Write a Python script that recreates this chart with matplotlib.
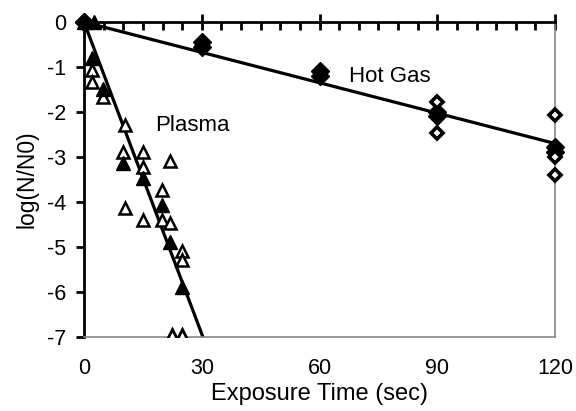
import matplotlib
matplotlib.use("Agg")
import matplotlib.pyplot as plt
from matplotlib.ticker import MultipleLocator, FixedLocator
import numpy as np

plt.rcParams['font.family'] = ['Liberation Sans', 'DejaVu Sans']
plt.rcParams['axes.unicode_minus'] = False

# Hot gas data
hot_filled_x = [0, 0, 30, 30, 60, 60, 90, 90, 120, 120]
hot_filled_y = [0, 0, -0.45, -0.55, -1.1, -1.2, -2.0, -2.1, -2.78, -2.88]
hot_open_x = [90, 90, 120, 120, 120]
hot_open_y = [-1.78, -2.47, -2.07, -3.0, -3.4]
hot_fit_x = [0, 120]
hot_fit_y = [0, -2.7]

# Plasma data
pl_filled_x = [0, 2.5, 2, 4.8, 10, 15, 19.9, 21.9, 25]
pl_filled_y = [0, 0, -0.8, -1.5, -3.13, -3.47, -4.07, -4.88, -5.89]
pl_open_x = [2, 2, 4.8, 10.4, 10, 15, 15, 21.9, 19.9, 10.4, 15, 19.9, 21.9, 25, 25]
pl_open_y = [-1.07, -1.33, -1.67, -2.29, -2.89, -2.89, -3.22, -3.1, -3.73, -4.13,
             -4.4, -4.4, -4.47, -5.1, -5.29]
pl_floor_x = [22.4, 25]
pl_floor_y = [-7.0, -7.0]
pl_fit_x = [0, 30.3]
pl_fit_y = [0, -7]

x_ticks = [0, 30, 60, 90, 120]
y_ticks = [0, -1, -2, -3, -4, -5, -6, -7]

fig = plt.figure(figsize=(5.76, 4.11), dpi=100)
ax = fig.add_axes([84/576, 1-337/411, (555-84)/576, (337-22)/411])

ax.plot(hot_fit_x, hot_fit_y, color='black', lw=2.3, zorder=2)
ax.plot(pl_fit_x, pl_fit_y, color='black', lw=2.3, zorder=2)

ax.plot(hot_filled_x, hot_filled_y, 'D', color='black', ms=9, zorder=3, clip_on=False)
ax.plot(hot_open_x, hot_open_y, 'D', mfc='white', mec='black', mew=2.6, ms=6, zorder=3, clip_on=False)
ax.plot(pl_open_x, pl_open_y, '^', mfc='white', mec='black', mew=1.8, ms=9, zorder=3, clip_on=False)
ax.plot(pl_floor_x, pl_floor_y, '^', mfc='white', mec='black', mew=2, ms=11, zorder=3, clip_on=True)
ax.plot(pl_filled_x, pl_filled_y, '^', color='black', ms=9.5, zorder=4, clip_on=False)

ax.set_xlim(0, 120)
ax.set_ylim(-7, 0)

ax.spines['top'].set_linewidth(2)
ax.spines['top'].set_color('black')
ax.spines['left'].set_linewidth(2)
ax.spines['left'].set_color('black')
for s in ['bottom', 'right']:
    ax.spines[s].set_linestyle((0, (1, 1)))
    ax.spines[s].set_color('#888888')
    ax.spines[s].set_linewidth(1.2)

ax.xaxis.set_major_locator(FixedLocator(x_ticks))
ax.xaxis.set_minor_locator(MultipleLocator(5))
ax.yaxis.set_major_locator(FixedLocator(y_ticks))
ax.set_yticklabels([str(v) for v in y_ticks])

ax.tick_params(axis='x', which='major', top=True, bottom=False, labeltop=False, labelbottom=True,
               direction='inout', length=12, width=2, labelsize=15.5, pad=9)
ax.tick_params(axis='x', which='minor', top=True, bottom=False, direction='in', length=6, width=2)
ax.tick_params(axis='y', which='major', left=True, right=False, direction='out', length=6, width=2,
               labelsize=15.5, pad=7)

ax.text(18, -2.3, 'Plasma', fontsize=16, ha='left', va='center')
ax.text(67.5, -1.2, 'Hot Gas', fontsize=16, ha='left', va='center')

ax.set_xlabel('Exposure Time (sec)', fontsize=17, labelpad=3)
ax.set_ylabel('log(N/N0)', fontsize=16.5, labelpad=6)

fig.savefig('out.png', dpi=100)
